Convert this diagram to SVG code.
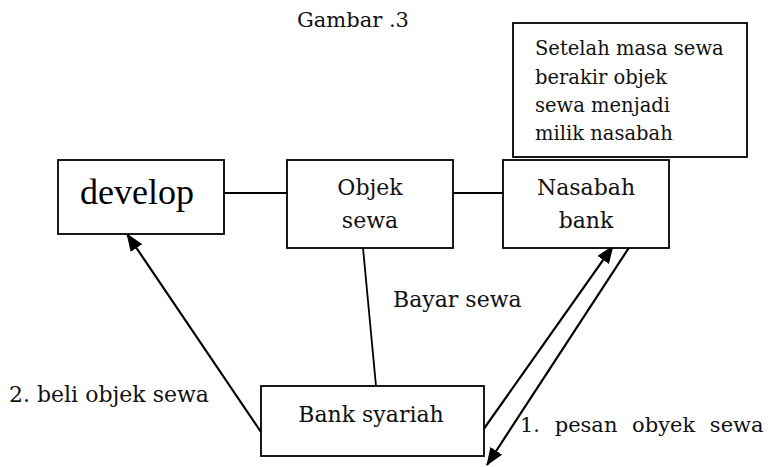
<svg xmlns="http://www.w3.org/2000/svg" width="775" height="467" viewBox="0 0 775 467">
<style>
.box{fill:#fff;stroke:#000;stroke-width:1.8}
.t{font-family:"DejaVu Serif","Liberation Serif",serif;fill:#111}
.c{text-anchor:middle}
.ln{stroke:#000;stroke-width:1.8;fill:none}
.ar{stroke:#000;stroke-width:2.2;fill:none;marker-end:url(#ah)}
</style>
<defs>
<marker id="ah" markerUnits="userSpaceOnUse" markerWidth="18" markerHeight="14" refX="17" refY="7" orient="auto">
<path d="M0,0 L18,7 L0,14 Z" fill="#000"/>
</marker>
</defs>
<rect width="775" height="467" fill="#fff"/>
<text class="t c" x="353" y="27" font-size="21">Gambar .3</text>

<g id="note">
<rect class="box" x="513" y="23" width="234" height="134"/>
<text class="t" font-size="19.5" x="535" y="55">Setelah masa sewa</text>
<text class="t" font-size="19.5" x="535" y="84">berakir objek</text>
<text class="t" font-size="19.5" x="535" y="112">sewa menjadi</text>
<text class="t" font-size="19.5" x="535" y="140">milik nasabah</text>
</g>

<g id="connectors">
<line class="ln" x1="224" y1="193" x2="287" y2="193"/>
<line class="ln" x1="453" y1="193" x2="503" y2="193"/>
<line class="ln" stroke-width="1.4" x1="363" y1="248" x2="376" y2="386"/>
<line class="ar" x1="261" y1="432" x2="127" y2="234"/>
<line class="ar" x1="483" y1="430" x2="613" y2="246"/>
<line class="ar" x1="632" y1="243" x2="487" y2="465"/>
</g>

<g id="develop">
<rect class="box" x="58" y="160" width="166" height="74"/>
<text x="137" y="204" font-family="Liberation Serif,serif" font-size="36" text-anchor="middle">develop</text>
</g>

<g id="objek">
<rect class="box" x="287" y="160" width="166" height="88"/>
<text class="t c" font-size="22" x="370" y="195">Objek</text>
<text class="t c" font-size="22" x="370" y="228">sewa</text>
</g>

<g id="nasabah">
<rect class="box" x="503" y="160" width="166" height="88"/>
<text class="t c" font-size="22" x="586" y="195">Nasabah</text>
<text class="t c" font-size="22" x="586" y="228">bank</text>
</g>

<g id="bank">
<rect class="box" x="261" y="386" width="223" height="70"/>
<text class="t c" font-size="22" x="371" y="422">Bank syariah</text>
</g>

<text class="t" font-size="22" x="393" y="307">Bayar sewa</text>
<text class="t" font-size="22" x="9" y="402">2. beli objek sewa</text>
<text class="t" font-size="21" x="520" y="432" word-spacing="8">1. pesan obyek sewa</text>
</svg>
